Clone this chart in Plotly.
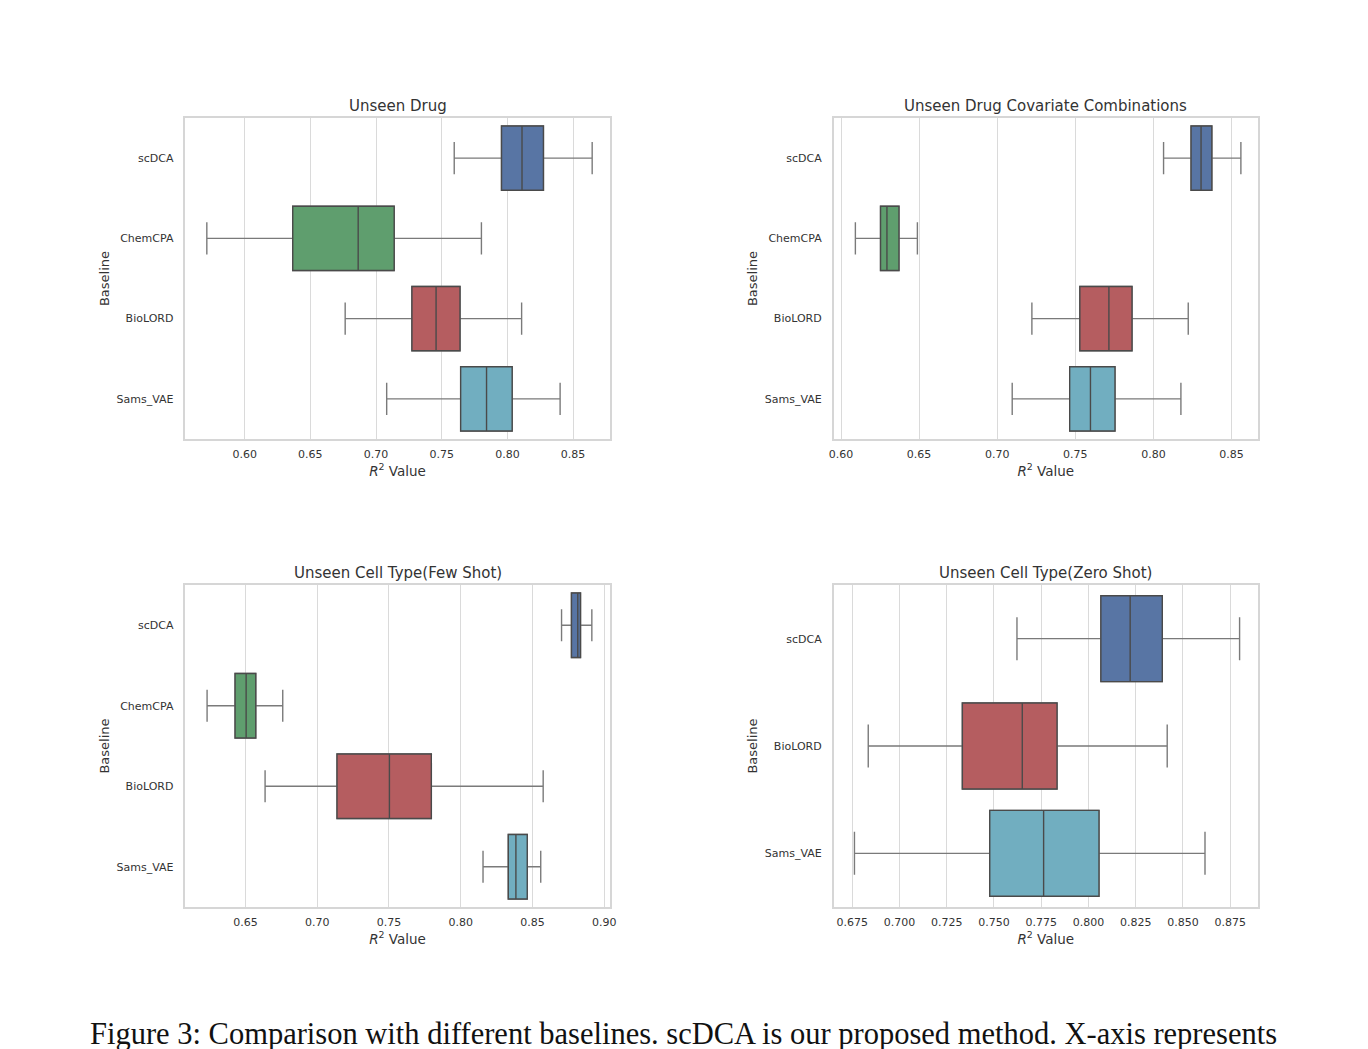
import plotly.graph_objects as go

# ---------------- data ----------------
panel_titles = ["Unseen Drug", "Unseen Drug Covariate Combinations",
                "Unseen Cell Type(Few Shot)", "Unseen Cell Type(Zero Shot)"]

baselines_4 = ["scDCA", "ChemCPA", "BioLORD", "Sams_VAE"]
baselines_3 = ["scDCA", "BioLORD", "Sams_VAE"]

# order of stats: lower whisker, Q1, median, Q3, upper whisker
drug_lo = [0.7595, 0.5712, 0.6765, 0.7081]
drug_q1 = [0.7955, 0.6366, 0.7273, 0.7644]
drug_med = [0.8111, 0.6864, 0.7457, 0.7841]
drug_q3 = [0.8274, 0.7138, 0.7639, 0.8036]
drug_hi = [0.8645, 0.7802, 0.8108, 0.8401]

cov_lo = [0.8065, 0.6092, 0.7222, 0.7096]
cov_q1 = [0.8241, 0.6253, 0.7529, 0.7464]
cov_med = [0.8305, 0.6294, 0.7715, 0.7597]
cov_q3 = [0.8374, 0.6371, 0.7863, 0.7754]
cov_hi = [0.8560, 0.6489, 0.8223, 0.8176]

few_lo = [0.8702, 0.6233, 0.6637, 0.8155]
few_q1 = [0.8771, 0.6428, 0.7138, 0.8331]
few_med = [0.8815, 0.6505, 0.7503, 0.8384]
few_q3 = [0.8834, 0.6572, 0.7795, 0.8463]
few_hi = [0.8913, 0.6760, 0.8574, 0.8557]

zero_lo = [0.7622, 0.6835, 0.6762]
zero_q1 = [0.8066, 0.7333, 0.7478]
zero_med = [0.8221, 0.7650, 0.7763]
zero_q3 = [0.8391, 0.7834, 0.8056]
zero_hi = [0.8800, 0.8417, 0.8617]

caption = ("Figure 3: Comparison with different baselines. scDCA is our proposed "
           "method. X-axis represents")

# ---------------- styling ----------------
colors = {"scDCA": "#5875A4", "ChemCPA": "#5F9E6E",
          "BioLORD": "#B55D60", "Sams_VAE": "#71AEC0"}
whisk_col = "#7a7a7a"
edge_col = "#4a4a4a"
W, H = 1368, 1049

# panel frames in pixels: (x0, x1, ytop, ybottom)
frames = [(182, 610, 118, 439), (836, 1264, 118, 439),
          (182, 610, 585, 907), (836, 1264, 585, 907)]
xranges = [[0.5549, 0.8778], [0.5953, 0.8669], [0.6082, 0.9037], [0.6652, 0.8897]]
dticks = [0.05, 0.05, 0.05, 0.025]
tfmts = [".2f", ".2f", ".2f", ".3f"]

panels = [
    (baselines_4, drug_lo, drug_q1, drug_med, drug_q3, drug_hi),
    (baselines_4, cov_lo, cov_q1, cov_med, cov_q3, cov_hi),
    (baselines_4, few_lo, few_q1, few_med, few_q3, few_hi),
    (baselines_3, zero_lo, zero_q1, zero_med, zero_q3, zero_hi),
]

fig = go.Figure()
layout = dict(width=W, height=H, margin=dict(l=0, r=0, t=0, b=0),
              paper_bgcolor="white", plot_bgcolor="white", showlegend=False,
              font=dict(family="DejaVu Sans", color="#333333"))
annotations = []

for i, (cats, lo, q1, med, q3, hi) in enumerate(panels):
    ax = "" if i == 0 else str(i + 1)
    for j, c in enumerate(cats):
        # whiskers (lighter gray)
        fig.add_trace(go.Box(
            y=[c], q1=[q1[j]], median=[med[j]], q3=[q3[j]],
            lowerfence=[lo[j]], upperfence=[hi[j]],
            orientation="h", width=0.8, whiskerwidth=0.5,
            fillcolor=colors[c], line=dict(color=whisk_col, width=1.4),
            boxpoints=False, hoverinfo="skip", name=c,
            xaxis="x" + ax, yaxis="y" + ax))
        # box body with darker edges and median
        fig.add_trace(go.Box(
            y=[c], q1=[q1[j]], median=[med[j]], q3=[q3[j]],
            lowerfence=[q1[j]], upperfence=[q3[j]],
            orientation="h", width=0.8, whiskerwidth=0,
            fillcolor=colors[c], line=dict(color=edge_col, width=1.4),
            boxpoints=False, hoverinfo="x+y", name=c,
            xaxis="x" + ax, yaxis="y" + ax))
    x0, x1, yt, yb = frames[i]
    n = len(cats)
    layout["xaxis" + ax] = dict(
        domain=[x0 / W, x1 / W], anchor="y" + ax, range=xranges[i],
        dtick=dticks[i], tick0=0, tickformat=tfmts[i],
        showgrid=True, gridcolor="#dadada", gridwidth=1.2, zeroline=False,
        showline=True, mirror=True, linecolor="#d6d6d6", linewidth=1.5,
        ticks="", ticklabelstandoff=4, tickfont=dict(size=11, color="#333333"),
        title=dict(text="<i>R</i><sup>2</sup> Value",
                   font=dict(size=13.5, color="#333333"), standoff=3))
    layout["yaxis" + ax] = dict(
        domain=[1 - yb / H, 1 - yt / H], anchor="x" + ax,
        type="category", categoryorder="array", categoryarray=cats,
        range=[n - 0.5, -0.5], showgrid=False, zeroline=False,
        showline=True, mirror=True, linecolor="#d6d6d6", linewidth=1.5,
        ticks="", ticklabelstandoff=8, tickfont=dict(size=11, color="#333333"),
        title=dict(text="Baseline", font=dict(size=13, color="#333333"), standoff=4))
    annotations.append(dict(
        text=panel_titles[i], xref="paper", yref="paper",
        x=(x0 + x1) / 2 / W, y=1 - yt / H, xanchor="center", yanchor="bottom",
        yshift=1, showarrow=False, font=dict(size=15, color="#333333")))

annotations.append(dict(
    text=caption, xref="paper", yref="paper", x=684 / W, y=1 - 1034 / H,
    xanchor="center", yanchor="middle", showarrow=False,
    font=dict(family="Liberation Serif", size=30.5, color="#111111")))

layout["annotations"] = annotations
fig.update_layout(**layout)
fig.write_html("out.html")
